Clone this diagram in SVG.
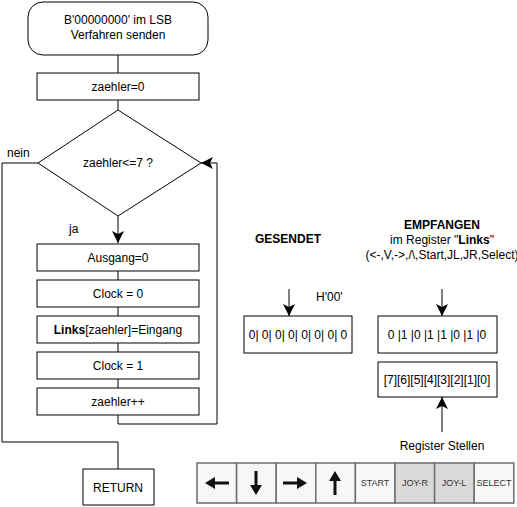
<svg xmlns="http://www.w3.org/2000/svg" width="517" height="507" viewBox="0 0 517 507">
<defs>
<style>
text{font-family:"Liberation Sans",Arial,sans-serif;font-size:12px;fill:#000}
.b{font-weight:bold}
.c{text-anchor:middle}
.box{fill:#fff;stroke:#000;stroke-width:1}
.ln{fill:none;stroke:#000;stroke-width:1}
.cell{stroke:#6e6e6e;stroke-width:1.5}
.bt{font-size:9px;fill:#333;text-anchor:middle}
</style>
<marker id="ah" markerWidth="14" markerHeight="14" refX="12" refY="6" orient="auto" markerUnits="userSpaceOnUse">
<path d="M0,0 L12,6 L0,12 L3,6 Z" fill="#000"/>
</marker>
</defs>
<rect width="517" height="507" fill="#fff"/>
<g id="connectors">
<line class="ln" x1="118" y1="55" x2="118" y2="73"/>
<line class="ln" x1="118" y1="100" x2="118" y2="110"/>
<line class="ln" x1="118" y1="216" x2="118" y2="243" marker-end="url(#ah)"/>
<line class="ln" x1="118" y1="271" x2="118" y2="280"/>
<line class="ln" x1="118" y1="307" x2="118" y2="316"/>
<line class="ln" x1="118" y1="343" x2="118" y2="352"/>
<line class="ln" x1="118" y1="379" x2="118" y2="388"/>
<polyline class="ln" points="118,415 118,424 217,424 217,163 201,163" marker-end="url(#ah)"/>
<polyline class="ln" points="38,163 2,163 2,442 118,442 118,469"/>
<line class="ln" x1="289" y1="289" x2="289" y2="316" marker-end="url(#ah)"/>
<line class="ln" x1="442" y1="289" x2="442" y2="316" marker-end="url(#ah)"/>
<line class="ln" x1="442" y1="432" x2="442" y2="397" marker-end="url(#ah)"/>
</g>
<g id="start">
<rect class="box" x="28" y="2" width="180" height="53" rx="15" ry="15"/>
<text class="c" x="118" y="24">B'00000000' im LSB</text>
<text class="c" x="118" y="39">Verfahren senden</text>
</g>
<g id="init">
<rect class="box" x="37" y="73" width="162" height="27"/>
<text class="c" x="118" y="91">zaehler=0</text>
</g>
<g id="decision">
<polygon class="box" points="118,110 201,163 118,216 38,163"/>
<text class="c" x="118" y="167">zaehler&lt;=7 ?</text>
<text x="7" y="157">nein</text>
<text x="69" y="233">ja</text>
</g>
<g id="ausgang">
<rect class="box" x="37" y="244" width="162" height="27"/>
<text class="c" x="118" y="262">Ausgang=0</text>
</g>
<g id="clock0">
<rect class="box" x="37" y="280" width="162" height="27"/>
<text class="c" x="118" y="298">Clock = 0</text>
</g>
<g id="links">
<rect class="box" x="37" y="316" width="162" height="27"/>
<text class="c" x="118" y="334"><tspan class="b">Links</tspan>[zaehler]=Eingang</text>
</g>
<g id="clock1">
<rect class="box" x="37" y="352" width="162" height="27"/>
<text class="c" x="118" y="370">Clock = 1</text>
</g>
<g id="inc">
<rect class="box" x="37" y="388" width="162" height="27"/>
<text class="c" x="118" y="406">zaehler++</text>
</g>
<g id="return">
<rect class="box" x="83" y="469" width="71" height="36"/>
<text class="c" x="118" y="492">RETURN</text>
</g>
<g id="gesendet">
<text class="c b" x="288" y="243">GESENDET</text>
<text x="316" y="301">H'00'</text>
<rect class="box" x="244" y="316" width="108" height="37"/>
<text class="c" x="298" y="339">0| 0| 0| 0| 0| 0| 0| 0</text>
</g>
<g id="empfangen">
<text class="c b" x="442" y="229">EMPFANGEN</text>
<text class="c" x="442" y="244">im Register "<tspan class="b">Links</tspan>"</text>
<text class="c" x="442" y="259">(&lt;-,V,-&gt;,/\,Start,JL,JR,Select)</text>
<rect class="box" x="378" y="316" width="119" height="37"/>
<text class="c" x="437" y="339">0 |1 |0 |1 |1 |0 |1 |0</text>
</g>
<g id="stellen">
<rect class="box" x="378" y="362" width="119" height="35"/>
<text class="c" x="437" y="384">[7][6][5][4][3][2][1][0]</text>
<text class="c" x="442" y="450">Register Stellen</text>
</g>
<g id="buttons">
<rect class="cell" x="197" y="463" width="39.6" height="40" fill="#f7f7f7"/>
<rect class="cell" x="236.6" y="463" width="39.6" height="40" fill="#f7f7f7"/>
<rect class="cell" x="276.2" y="463" width="39.6" height="40" fill="#f7f7f7"/>
<rect class="cell" x="315.8" y="463" width="39.6" height="40" fill="#f7f7f7"/>
<rect class="cell" x="355.4" y="463" width="39.6" height="40" fill="#f7f7f7"/>
<rect class="cell" x="395" y="463" width="39.6" height="40" fill="#d9d9d9"/>
<rect class="cell" x="434.6" y="463" width="39.6" height="40" fill="#d9d9d9"/>
<rect class="cell" x="474.2" y="463" width="39.6" height="40" fill="#f7f7f7"/>
<g fill="#111">
<path d="M205,483 L215,477 L215,481.5 L229,481.5 L229,484.5 L215,484.5 L215,489 Z"/>
<path d="M256,495 L250,485 L254.5,485 L254.5,471 L257.5,471 L257.5,485 L262,485 Z"/>
<path d="M307,483 L297,477 L297,481.5 L283,481.5 L283,484.5 L297,484.5 L297,489 Z"/>
<path d="M335,471 L329,481 L333.5,481 L333.5,495 L336.5,495 L336.5,481 L341,481 Z"/>
</g>
<text class="bt" x="375" y="486">START</text>
<text class="bt" x="415" y="486">JOY-R</text>
<text class="bt" x="454" y="486">JOY-L</text>
<text class="bt" x="494" y="486">SELECT</text>
</g>
</svg>
